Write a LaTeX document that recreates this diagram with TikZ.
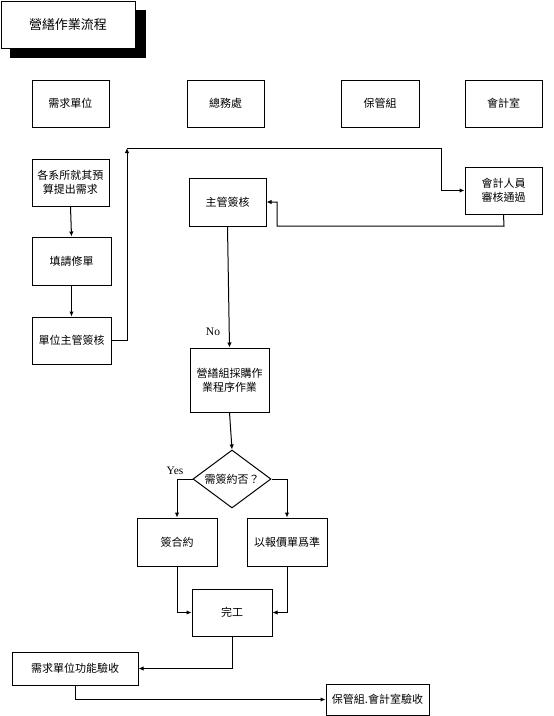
\documentclass[tikz,border=0pt]{standalone}
\usepackage{fontspec}
\newfontfamily\cjk{Noto Sans CJK TC}
\newfontfamily\latn{Liberation Serif}
\usetikzlibrary{shapes.geometric,arrows.meta}
\tikzset{
  box/.style={draw, line width=1pt, fill=white, inner sep=1pt, align=center,
    font=\cjk\fontsize{11}{14}\selectfont},
  dia/.style={draw, line width=1pt, diamond, inner sep=0pt, aspect=1.35,
    font=\cjk\fontsize{11}{14}\selectfont},
  conn/.style={line width=1pt, -{Latex[length=5pt,width=4.5pt]}},
  lbl/.style={font=\latn\fontsize{11.5}{13}\selectfont, inner sep=0pt}
}
\begin{document}
\begin{tikzpicture}[x=1pt,y=-1pt]
\useasboundingbox (0,0) rectangle (554,716);
\fill[white] (0,0) rectangle (554,716);
% title
\fill[black] (10,10) rectangle (146,58);
\node[box, minimum width=134pt, minimum height=47pt, font=\cjk\fontsize{13}{15}\selectfont] (title) at (68,24.5) {營繕作業流程};
% headers
\node[box, minimum width=77pt, minimum height=47pt] (h1) at (70.5,103.5) {需求單位};
\node[box, minimum width=77pt, minimum height=47pt] (h2) at (225.5,103.5) {總務處};
\node[box, minimum width=78pt, minimum height=47pt] (h3) at (380,103.5) {保管組};
\node[box, minimum width=77pt, minimum height=47pt] (h4) at (503.5,103.5) {會計室};
% left column
\node[box, minimum width=77pt, minimum height=47pt] (a1) at (70.5,182.5) {各系所就其預\\算提出需求};
\node[box, minimum width=79pt, minimum height=48pt] (a2) at (71.5,261) {填請修單};
\node[box, minimum width=79pt, minimum height=47pt] (a3) at (71.5,340.5) {單位主管簽核};
% middle
\node[box, minimum width=77pt, minimum height=48pt] (b1) at (227.5,202) {主管簽核};
\node[box, minimum width=77pt, minimum height=47pt] (c1) at (503.5,190.5) {會計人員\\審核通過};
\node[box, minimum width=79pt, minimum height=64pt] (b2) at (229.5,380) {營繕組採購作\\業程序作業};
\node[dia, minimum width=78pt, minimum height=58pt] (d) at (232,479) {需簽約否？};
\node[box, minimum width=80pt, minimum height=48pt] (e1) at (177,542) {簽合約};
\node[box, minimum width=80pt, minimum height=48pt] (e2) at (287,542) {以報價單爲準};
\node[box, minimum width=80pt, minimum height=47pt] (f) at (232,612.5) {完工};
\node[box, minimum width=126pt, minimum height=33pt] (g) at (75,668.5) {需求單位功能驗收};
\node[box, minimum width=103pt, minimum height=31pt] (k) at (377.5,699.5) {保管組.會計室驗收};
% connectors
\coordinate (up) at (127,148);
\draw[conn] (a1.south) -- (a2.north);
\draw[conn] (a2.south) -- (a3.north);
\draw[conn] (a3.east) -| (up);
\draw[conn] (up) -- (441,148) |- (c1.west);
\draw[conn] (c1.south) -- (504,226) -- (277,226) |- (b1.east);
\draw[conn] (b1.south) -- (b2.north);
\node[lbl] (no) at (213,332) {No};
\draw[conn] (b2.south) -- (d.north);
\draw[conn] (d.west) -| (e1.north);
\node[lbl] (yes) at (175,471) {Yes};
\draw[conn] (d.east) -| (e2.north);
\draw[conn] (e1.south) |- (f.west);
\draw[conn] (e2.south) |- (f.east);
\draw[conn] (f.south) |- (g.east);
\draw[conn] (g.south) |- (k.west);
\end{tikzpicture}
\end{document}
